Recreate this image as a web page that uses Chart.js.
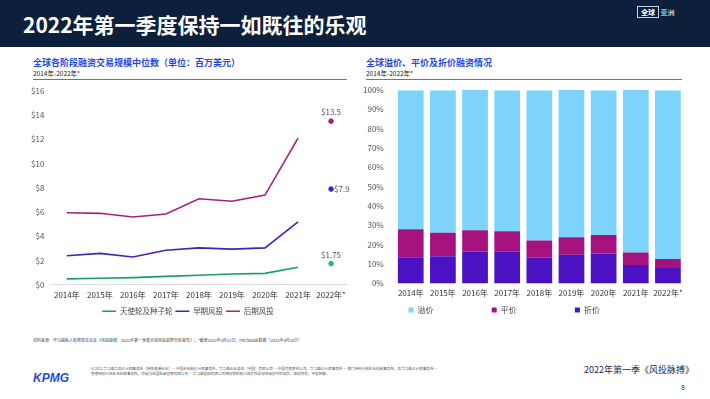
<!DOCTYPE html>
<html>
<head>
<meta charset="utf-8">
<script src="https://cdn.jsdelivr.net/npm/chart.js@4"></script>
<style>
  body { margin: 0; width: 710px; height: 399px; position: relative; background: #fff; font-family: "Noto Sans CJK SC", "Noto Sans", sans-serif; overflow: hidden; }
  #header { position: absolute; left: 0; top: 0; width: 710px; height: 47px; background: #0c1f3b; }
  #title { position: absolute; left: 23px; top: 9px; color: #fff; font-size: 21px; font-weight: bold; }
  #tag { position: absolute; left: 637px; top: 7px; font-size: 7px; color: #fff; }
  #tag span.box { border: 1px solid #c9d2e0; padding: 0 3px; font-weight: bold; }
  .ctitle { position: absolute; top: 56px; color: #1e49e2; font-size: 9px; font-weight: bold; }
  .csub { position: absolute; top: 68px; color: #222; font-size: 6.5px; }
  .rule { position: absolute; top: 79px; height: 1px; background: #5b6fd6; }
  .wrap { position: absolute; }
  #note { position: absolute; left: 33px; top: 337px; font-size: 4px; color: #444; white-space: nowrap; }
  #copy { position: absolute; left: 91px; top: 366px; font-size: 3.6px; color: #555; line-height: 5px; white-space: nowrap; }
  #kpmg { position: absolute; left: 33px; top: 371px; font-size: 12px; font-weight: bold; font-style: italic; color: #1e49e2; font-family: "Liberation Sans", sans-serif; }
  #pub { position: absolute; left: 584px; top: 363px; font-size: 9px; color: #1a2a4a; }
  #page { position: absolute; left: 681px; top: 382px; font-size: 7px; color: #333; }
</style>
</head>
<body>
<div id="header"></div>
<div id="title">2022年第一季度保持一如既往的乐观</div>
<div id="tag"><span class="box">全球</span> 亚洲</div>

<div class="ctitle" style="left:33px">全球各阶段融资交易规模中位数（单位：百万美元）</div>
<div class="csub" style="left:33px">2014年-2022年*</div>
<div class="rule" style="left:33px;width:314px"></div>

<div class="ctitle" style="left:366px">全球溢价、平价及折价融资情况</div>
<div class="csub" style="left:366px">2014年-2022年*</div>
<div class="rule" style="left:366px;width:316px"></div>

<div class="wrap" style="left:25px;top:80px;width:326px;height:245px"><canvas id="lineChart"></canvas></div>
<div class="wrap" style="left:360px;top:82px;width:328px;height:242px"><canvas id="barChart"></canvas></div>

<div id="note">资料来源：毕马威私人有限责任企业《风投脉搏：2022年第一季度全球风投趋势分析报告》；*截至2022年3月31日；PitchBook数据（2022年4月20日）</div>
<div id="kpmg">KPMG</div>
<div id="copy">© 2022 毕马威华振会计师事务所（特殊普通合伙）— 中国合伙制会计师事务所，毕马威企业咨询（中国）有限公司 — 中国有限责任公司，毕马威会计师事务所 — 澳门特别行政区合伙制事务所，及毕马威会计师事务所 —<br>香港特别行政区合伙制事务所，均是与英国私营担保有限公司 — 毕马威国际有限公司相关联的独立成员所全球性组织中的成员。版权所有，不得转载。</div>
<div id="pub">2022年第一季《风投脉搏》</div>
<div id="page">8</div>

<script>
const years = ['2014年', '2015年', '2016年', '2017年', '2018年', '2019年', '2020年', '2021年', '2022年*'];

// median deal size, $M (2014-2021 lines, 2022* shown as a separate point)
const angelSeed = [0.5, 0.55, 0.6, 0.7, 0.8, 0.9, 0.95, 1.45];
const earlyStage = [2.4, 2.6, 2.3, 2.85, 3.05, 2.95, 3.05, 5.2];
const laterStage = [5.95, 5.9, 5.6, 5.85, 7.1, 6.9, 7.4, 12.1];
const ytd2022 = [1.75, 7.9, 13.5];
const ytdLabels = ['$1.75', '$7.9', '$13.5'];
const dollarTicks = [0, 2, 4, 6, 8, 10, 12, 14, 16];

// share of up / flat / down rounds, %
const upRounds = [71.7, 73.4, 72.5, 72.6, 77.4, 76.2, 74.6, 84, 87.1];
const flatRounds = [14.5, 12.2, 11, 10.7, 9, 9, 9.5, 6.5, 4.6];
const downRounds = [13.5, 14, 16.5, 16.3, 13.2, 14.8, 15.5, 9.5, 8];

const green = '#159c78', purple = '#4a1fb8', magenta = '#a5207c';
const font = { family: '"Noto Sans CJK SC", "Noto Sans", sans-serif', size: 8 };
Chart.defaults.color = '#444';

function only2022(v) {
  return years.map((y, i) => i === years.length - 1 ? v : null);
}

const pointLabels = {
  id: 'pointLabels',
  afterDatasetsDraw(chart) {
    const ctx = chart.ctx;
    ctx.save();
    ctx.font = '8px "Noto Sans CJK SC", sans-serif';
    ctx.fillStyle = '#555';
    [3, 4, 5].forEach((di, k) => {
      const pt = chart.getDatasetMeta(di).data[years.length - 1];
      if (k === 1) {
        ctx.textAlign = 'left';
        ctx.textBaseline = 'middle';
        ctx.fillText(ytdLabels[k], pt.x + 3, pt.y);
      } else {
        ctx.textAlign = 'center';
        ctx.textBaseline = 'bottom';
        ctx.fillText(ytdLabels[k], pt.x, pt.y - 5);
      }
    });
    ctx.restore();
  }
};

const lineDs = (label, data, color) => ({
  label, data, borderColor: color, backgroundColor: color,
  borderWidth: 1.6, pointRadius: 0, tension: 0
});
const dotDs = (label, value, color) => ({
  label, data: only2022(value), borderColor: color, backgroundColor: color,
  showLine: false, pointRadius: 2.3, pointHoverRadius: 2.3
});

new Chart(document.getElementById('lineChart'), {
  type: 'line',
  data: {
    labels: years,
    datasets: [
      lineDs('天使轮及种子轮', angelSeed, green),
      lineDs('早期风投', earlyStage, purple),
      lineDs('后期风投', laterStage, magenta),
      dotDs('_a', ytd2022[0], '#1fb98d'),
      dotDs('_e', ytd2022[1], purple),
      dotDs('_l', ytd2022[2], magenta)
    ]
  },
  options: {
    responsive: true, maintainAspectRatio: false, animation: false,
    layout: { padding: { top: 2, right: 0, left: 0, bottom: 0 } },
    plugins: {
      tooltip: { enabled: false },
      legend: {
        position: 'bottom',
        labels: {
          font: { ...font, size: 7.5 }, usePointStyle: true, pointStyle: 'line', pointStyleWidth: 14, boxWidth: 14, padding: 3,
          filter: item => !item.text.startsWith('_')
        }
      }
    },
    scales: {
      x: {
        offset: true,
        grid: { display: false, drawTicks: false },
        border: { display: false },
        ticks: { font, color: '#333', maxRotation: 0, autoSkip: false, padding: 5 }
      },
      y: {
        min: 0, max: 16,
        afterBuildTicks: axis => { axis.ticks = dollarTicks.map(v => ({ value: v })); },
        grid: { color: ctx => ctx.tick.value === 0 ? '#dddddd' : 'rgba(0,0,0,0)', drawTicks: false },
        border: { display: false },
        ticks: { font, color: '#555', padding: 6, callback: v => '$' + v }
      }
    }
  },
  plugins: [pointLabels]
});

// spaces widen the legend items so they spread out like the original
const legendGap = '\u3000\u3000\u3000\u3000\u3000\u3000    ';
const legendTail = '\u3000\u3000\u3000\u3000  ';

new Chart(document.getElementById('barChart'), {
  type: 'bar',
  data: {
    labels: years,
    datasets: [
      { label: '折价', data: downRounds, backgroundColor: '#4b12c4' },
      { label: '平价', data: flatRounds, backgroundColor: '#a5127d' },
      { label: '溢价', data: upRounds, backgroundColor: '#7dd3fa' }
    ]
  },
  options: {
    responsive: true, maintainAspectRatio: false, animation: false,
    datasets: { bar: { barPercentage: 0.8, categoryPercentage: 1 } },
    layout: { padding: { top: 5, right: 4 } },
    plugins: {
      tooltip: { enabled: false },
      legend: {
        position: 'bottom', reverse: true,
        labels: {
          font, boxWidth: 5, boxHeight: 5, padding: 3,
          generateLabels: chart => {
            const items = Chart.defaults.plugins.legend.labels.generateLabels(chart);
            items.forEach(it => { it.text = it.text + (it.datasetIndex !== 0 ? legendGap : legendTail); });
            return items;
          }
        }
      }
    },
    scales: {
      x: {
        stacked: true,
        grid: { display: false, drawTicks: false },
        border: { display: false },
        ticks: { font, color: '#333', maxRotation: 0, autoSkip: false, padding: 5 }
      },
      y: {
        stacked: true, min: 0, max: 100,
        ticks: { stepSize: 10, font, color: '#555', callback: v => v + '%' },
        grid: { display: false },
        border: { display: false }
      }
    }
  }
});
</script>
</body>
</html>
